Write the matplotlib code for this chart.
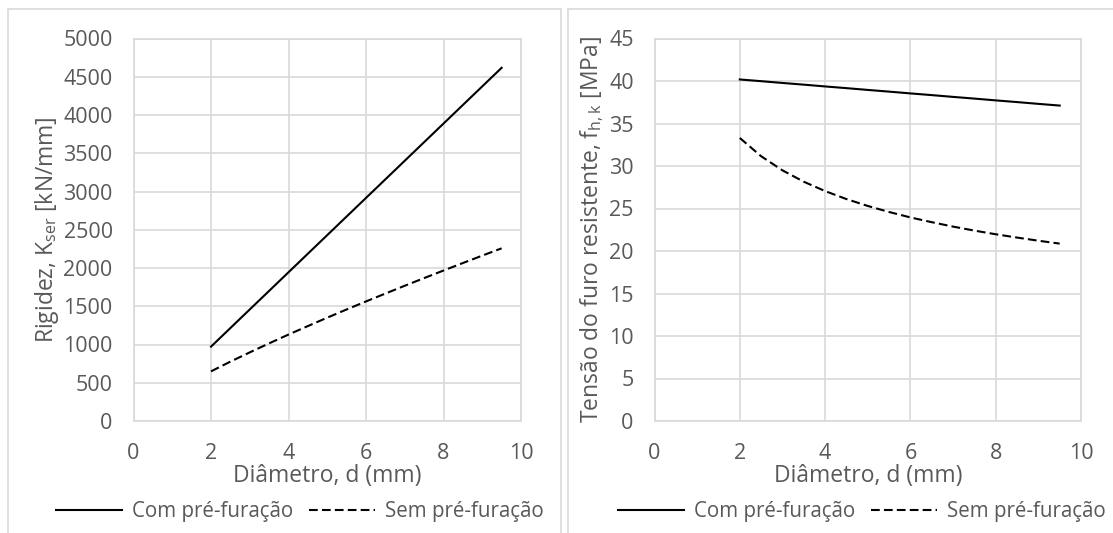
import matplotlib
matplotlib.use("Agg")
import matplotlib.pyplot as plt
from matplotlib.patches import Rectangle

plt.rcParams['font.family'] = ['Open Sans', 'DejaVu Sans']
plt.rcParams['mathtext.fontset'] = 'custom'
plt.rcParams['mathtext.rm'] = 'Open Sans'
plt.rcParams['mathtext.it'] = 'Open Sans:italic'

# ---- data ----
diametro = [2, 2.5, 3, 3.5, 4, 4.5, 5, 5.5, 6, 6.5, 7, 7.5, 8, 8.5, 9, 9.5]
k_com = [972, 1215, 1458, 1701, 1944, 2187, 2430, 2673, 2916, 3159, 3402, 3645,
         3888, 4131, 4374, 4617]
k_sem = [649, 776, 897, 1015, 1130, 1241, 1351, 1458, 1563, 1666, 1768, 1868,
         1967, 2065, 2162, 2257]
f_com = [40.18, 39.98, 39.77, 39.57, 39.36, 39.16, 38.95, 38.75, 38.54, 38.34,
         38.13, 37.93, 37.72, 37.52, 37.31, 37.11]
f_sem = [33.30, 31.15, 29.49, 28.15, 27.05, 26.11, 25.30, 24.59, 23.95, 23.39,
         22.87, 22.40, 21.97, 21.58, 21.21, 20.87]
serie_labels = ['Com pré-furação', 'Sem pré-furação']
xlabel = 'Diâmetro, d (mm)'
ylabel_k = r'Rigidez, K$_{\mathrm{ser}}$ [kN/mm]'
ylabel_f = r'Tensão do furo resistente, f$_{\mathrm{h,k}}$ [MPa]'
xticks = [0, 2, 4, 6, 8, 10]
yticks_k = list(range(0, 5001, 500))
yticks_f = list(range(0, 46, 5))

W, H = 1113, 533
fig = plt.figure(figsize=(W / 100, H / 100), dpi=100)
fig.patch.set_facecolor('white')

grid_c = '#d9d9d9'
text_c = '#595959'

# panel borders
fig.add_artist(Rectangle((8 / W, -0.1), (561 - 8) / W, 1.1 - 9 / H,
                         transform=fig.transFigure, fill=False, edgecolor=grid_c, lw=1.2))
fig.add_artist(Rectangle((568 / W, -0.1), 0.6, 1.1 - 9 / H,
                         transform=fig.transFigure, fill=False, edgecolor=grid_c, lw=1.2))

def px_axes(x0, y0, x1, y1):
    return [x0 / W, 1 - y1 / H, (x1 - x0) / W, (y1 - y0) / H]

ax1 = fig.add_axes(px_axes(133.5, 38.5, 521, 421))
ax2 = fig.add_axes(px_axes(654.5, 38.5, 1081, 421))

TICK_FS = 15.5
LABEL_FS = 16.5

def style(ax, yticks, ylabel, ylim):
    ax.set_xlim(0, 10)
    ax.set_ylim(*ylim)
    ax.set_xticks(xticks)
    ax.set_yticks(yticks)
    ax.grid(True, color=grid_c, lw=1.2)
    ax.set_axisbelow(True)
    for s in ax.spines.values():
        s.set_color(grid_c)
        s.set_linewidth(1.2)
    ax.tick_params(length=0, colors=text_c, labelsize=TICK_FS)
    ax.tick_params(axis='y', pad=15)
    ax.tick_params(axis='x', pad=16)
    ax.set_xlabel(xlabel, color=text_c, fontsize=LABEL_FS, labelpad=0)
    ax.set_ylabel(ylabel, color=text_c, fontsize=LABEL_FS, labelpad=2)

style(ax1, yticks_k, ylabel_k, (0, 5000))
style(ax2, yticks_f, ylabel_f, (0, 45))

dash = (0, (4.2, 2.0))
ax1.plot(diametro, k_com, color='black', lw=1.5, label=serie_labels[0])
ax1.plot(diametro, k_sem, color='black', lw=1.5, linestyle=dash, label=serie_labels[1])
ax2.plot(diametro, f_com, color='black', lw=1.5, label=serie_labels[0])
ax2.plot(diametro, f_sem, color='black', lw=1.5, linestyle=dash, label=serie_labels[1])

for ax, cx in ((ax1, 300), (ax2, 862)):
    leg = fig.legend(*ax.get_legend_handles_labels(), loc='center',
                     bbox_to_anchor=(cx / W, 1 - 512 / H), ncol=2, frameon=False,
                     fontsize=14.8, handlelength=3.2, handletextpad=0.5,
                     columnspacing=0.75, borderpad=0, borderaxespad=0)
    for t in leg.get_texts():
        t.set_color(text_c)

fig.savefig('out.png', dpi=100)
